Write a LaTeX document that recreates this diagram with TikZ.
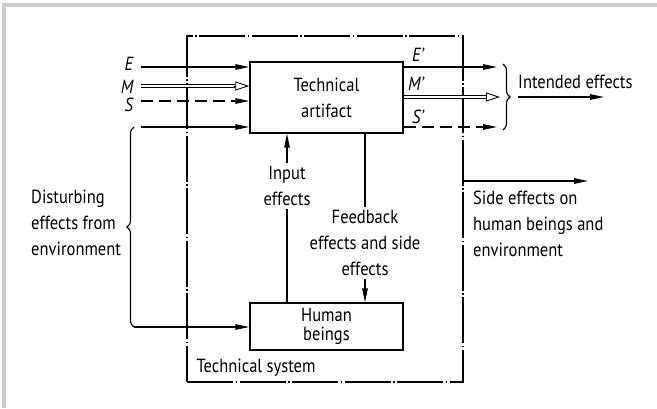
\documentclass[tikz,border=0pt]{standalone}
\usepackage{fontspec}
\setmainfont{PT Sans}[FakeStretch=0.87]
\usetikzlibrary{positioning}
\usetikzlibrary{arrows.meta}
\usetikzlibrary{calc}
\usetikzlibrary{decorations.pathreplacing}

\begin{document}
\begin{tikzpicture}[x=1pt, y=-1pt, font=\fontsize{19}{26}\selectfont,
        box/.style={draw, line width=1.4pt, inner sep=0pt, align=center},
        sysbox/.style={draw, line width=1.3pt, dash pattern=on 46pt off 2.5pt on 1.5pt off 2.5pt},
        flow/.style={line width=1.2pt, -{Triangle[length=14pt,width=5.5pt]}},
        hollow/.style={double, double distance=2.6pt, line width=0.9pt},
        opentip/.style={line width=0.9pt, -{Triangle[open,length=14pt,width=9pt]}},
        txt/.style={inner sep=0pt, align=left},
        brc/.style={decorate, decoration={brace, amplitude=7pt}, line width=1.1pt}]
        \useasboundingbox (0,0) rectangle (657,408);
        \draw[gray!40, line width=4pt] (4,408) -- (4,5) -- (657,5);

        \node[sysbox, minimum width=276pt, minimum height=346pt] (sys) at (325,209) {};
        \node[box, minimum width=153pt, minimum height=71pt] (art) at (326.5,97.5) {Technical\\artifact};
        \node[box, minimum width=153pt, minimum height=47pt, font=\fontsize{19}{19}\selectfont] (hum) at (326.5,326.5) {Human\\beings};
        \node[txt, anchor=south west] (tsys) at ([xshift=10pt, yshift=6pt]sys.south west) {Technical system};

        \coordinate (ein) at (141,67);
        \coordinate (min) at (141,86);
        \coordinate (sin) at (141,101);
        \coordinate (din) at (141,127);
        \coordinate (dbot) at (134,327);
        \node[txt, anchor=east] (E) at (134,63.5) {\textit{E}};
        \node[txt, anchor=east] (M) at (134,86.5) {\textit{M}};
        \node[txt, anchor=east] (S) at (134,105) {\textit{S}};
        \draw[flow] (ein) -- (ein -| art.west);
        \draw[hollow] (min) -- ($(min -| art.west)+(-14,0)$);
        \draw[opentip] ($(min -| art.west)+(-15,0)$) -- (min -| art.west);
        \draw[flow, dash pattern=on 12pt off 6pt] (sin) -- (sin -| art.west);
        \draw[flow] (din) -- (din -| art.west);
        \draw[brc] (dbot) -- (134,127);
        \draw[flow] (dbot) -- (dbot -| hum.west);
        \node[txt, anchor=west] (dist) at (31,223) {Disturbing\\effects from\\environment};

        \coordinate (eout) at (497,67);
        \coordinate (mout) at (500,97);
        \coordinate (sout) at (497,127);
        \node[txt, anchor=west] (E2) at (412,55) {\textit{E'}};
        \node[txt, anchor=west] (M2) at (408,84) {\textit{M'}};
        \node[txt, anchor=west] (S2) at (412,117) {\textit{S'}};
        \draw[flow] (art.east |- eout) -- (eout);
        \draw[hollow] (art.east |- mout) -- ($(mout)+(-13,0)$);
        \draw[opentip] ($(mout)+(-14,0)$) -- (mout);
        \draw[flow, dash pattern=on 12pt off 6pt] (art.east |- sout) -- (sout);
        \draw[brc] (503,64) -- (503,130);
        \coordinate (intend) at (604,97);
        \node[txt, anchor=west] (int) at (518,82) {Intended effects};
        \draw[flow] (int.west |- intend) -- (intend);

        \coordinate (side) at (588,181);
        \draw[flow] (sys.east |- side) -- (side);
        \node[txt, anchor=west] (sidetxt) at (473,223.5) {Side effects on\\human beings and\\environment};

        \node[txt, inner sep=3pt, align=center] (inp) at (287,186) {Input\\effects};
        \draw[line width=1.2pt] (hum.north -| inp) -- (inp.south);
        \draw[flow] (inp.north) -- (inp.north |- art.south);
        \node[txt, inner sep=3pt, align=center] (fb) at (365,243) {Feedback\\effects and side\\effects};
        \draw[line width=1.2pt] (art.south -| fb) -- (fb.north);
        \draw[flow] (fb.south) -- (fb.south |- hum.north);
    \end{tikzpicture}
\end{document}
